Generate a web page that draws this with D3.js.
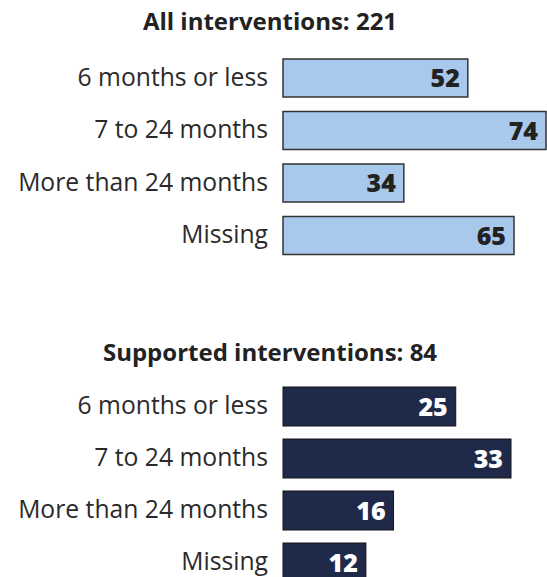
<!DOCTYPE html>
<html><head><meta charset="utf-8">
<script src="https://cdn.jsdelivr.net/npm/d3@7"></script>
<style>body{margin:0;background:#fff}svg{display:block}</style>
</head><body>
<script>
const categories = ["6 months or less", "7 to 24 months", "More than 24 months", "Missing"];
const allValues = [52, 74, 34, 65];
const supportedValues = [25, 33, 16, 12];
const titles = ["All interventions: 221", "Supported interventions: 84"];

const W = 547, H = 577;
const FONT = "'Open Sans', sans-serif";
const svg = d3.select("body").append("svg").attr("width", W).attr("height", H);

const panels = [
  {title: titles[0], values: allValues, titleY: 30, yRange: [51.75, 261.75], pad: 0.276,
   xRange: [283, 546], fill: "#a8c8ec", stroke: "#333", sw: 1.5, textFill: "#222"},
  {title: titles[1], values: supportedValues, titleY: 361, yRange: [380.5, 588.5], pad: 0.25,
   xRange: [283, 511], fill: "#1f2a4b", stroke: "#151515", sw: 1, textFill: "#fff"}
];

panels.forEach(p => {
  const g = svg.append("g");
  const y = d3.scaleBand().domain(categories).range(p.yRange).paddingInner(p.pad).paddingOuter(p.pad / 2);
  const x = d3.scaleLinear().domain([0, d3.max(p.values)]).range(p.xRange);

  g.append("text").attr("x", 270).attr("y", p.titleY).attr("text-anchor", "middle")
    .attr("font-family", FONT).attr("font-weight", 700).attr("font-size", 24).attr("fill", "#222")
    .text(p.title);

  const yAxis = d3.axisLeft(y).tickSize(0).tickPadding(0);
  const ag = g.append("g").attr("transform", `translate(268,0)`).call(yAxis);
  ag.select(".domain").remove();
  ag.selectAll("text").attr("font-family", FONT).attr("font-size", 24.7).attr("fill", "#2a2a2a");

  g.selectAll("rect").data(p.values).join("rect")
    .attr("x", x(0)).attr("y", (d, i) => y(categories[i]))
    .attr("width", d => x(d) - x(0)).attr("height", y.bandwidth())
    .attr("fill", p.fill).attr("stroke", p.stroke).attr("stroke-width", p.sw);

  g.selectAll("text.val").data(p.values).join("text").attr("class", "val")
    .attr("x", d => x(d) - 8).attr("y", (d, i) => y(categories[i]) + y.bandwidth() / 2)
    .attr("dy", "0.36em").attr("text-anchor", "end")
    .attr("font-family", FONT).attr("font-weight", 800).attr("font-size", 25).attr("fill", p.textFill)
    .text(d => d);
});
</script>
</body></html>
